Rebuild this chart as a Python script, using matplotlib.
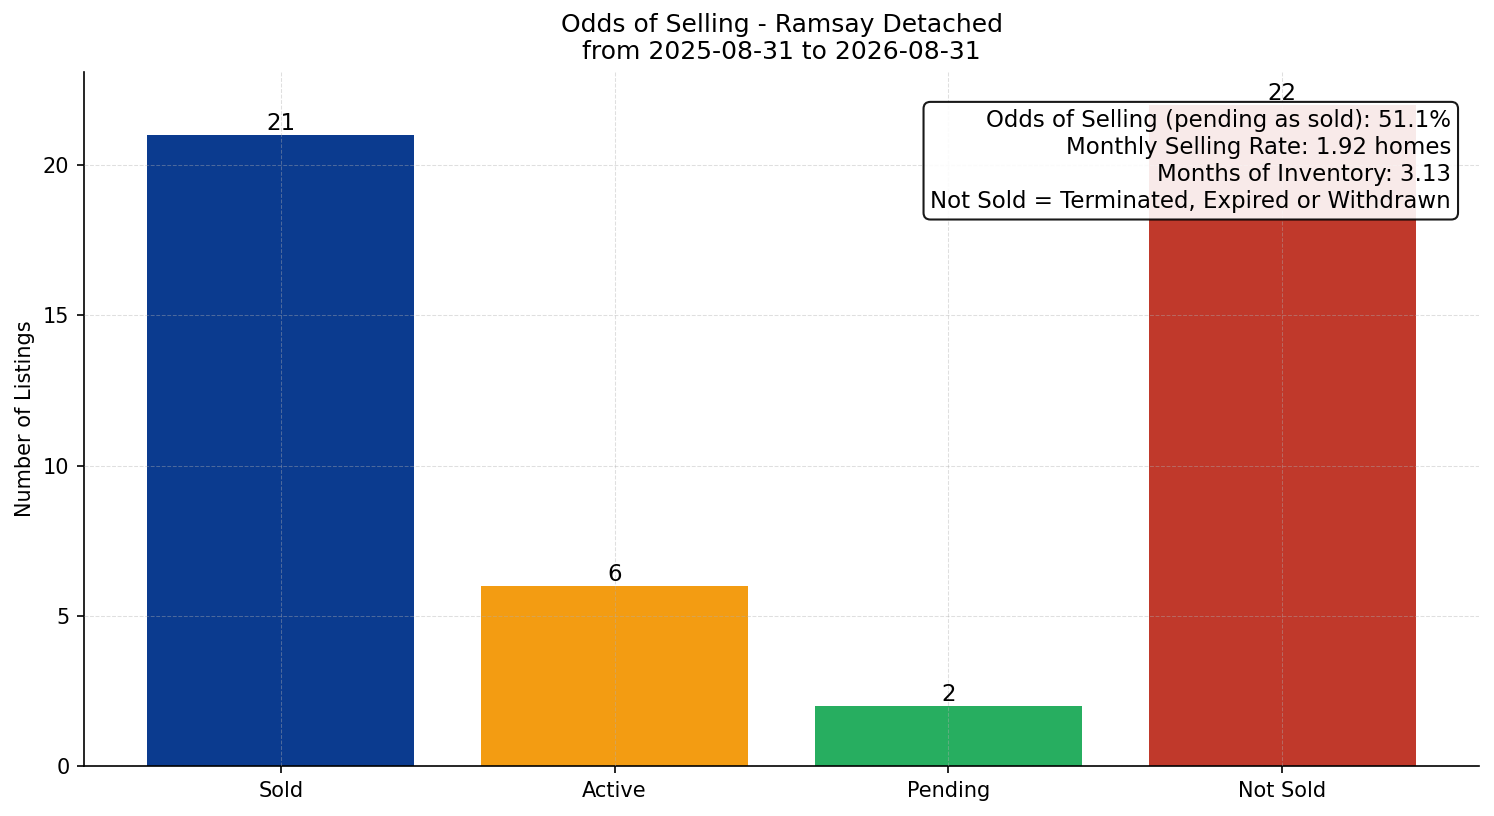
import matplotlib
matplotlib.use("Agg")
import matplotlib.pyplot as plt

# listing counts by status
categories = ["Sold", "Active", "Pending", "Not Sold"]
counts = [21, 6, 2, 22]
bar_colors = ["#0B3B8F", "#F39C12", "#27AE60", "#C0392B"]

odds_selling = 51.1
monthly_rate = 1.92
months_inventory = 3.13

title = "Odds of Selling - Ramsay Detached\nfrom 2025-08-31 to 2026-08-31"


def main():
    fig, ax = plt.subplots(figsize=(9.96, 5.44), dpi=150)
    fig.subplots_adjust(left=0.0562, right=0.990, top=0.9118, bottom=0.0613)

    bars = ax.bar(categories, counts, color=bar_colors, width=0.8, zorder=1)
    for b, v in zip(bars, counts):
        ax.text(b.get_x() + b.get_width() / 2, v, str(v),
                ha="center", va="bottom", fontsize=11)

    ax.set_title(title, fontsize=12)
    ax.set_ylabel("Number of Listings")
    ax.grid(True, linestyle="--", alpha=0.4, linewidth=0.5, zorder=2)
    ax.set_axisbelow(False)
    ax.spines["top"].set_visible(False)
    ax.spines["right"].set_visible(False)

    info = (f"Odds of Selling (pending as sold): {odds_selling}%\n"
            f"Monthly Selling Rate: {monthly_rate} homes\n"
            f"Months of Inventory: {months_inventory}\n"
            "Not Sold = Terminated, Expired or Withdrawn")
    ax.text(0.98, 0.947, info, transform=ax.transAxes, ha="right", va="top",
            fontsize=11, zorder=5, linespacing=1.22,
            bbox=dict(boxstyle="round", facecolor="white", alpha=0.9))

    fig.savefig("out.png", dpi=150)


if __name__ == "__main__":
    main()
